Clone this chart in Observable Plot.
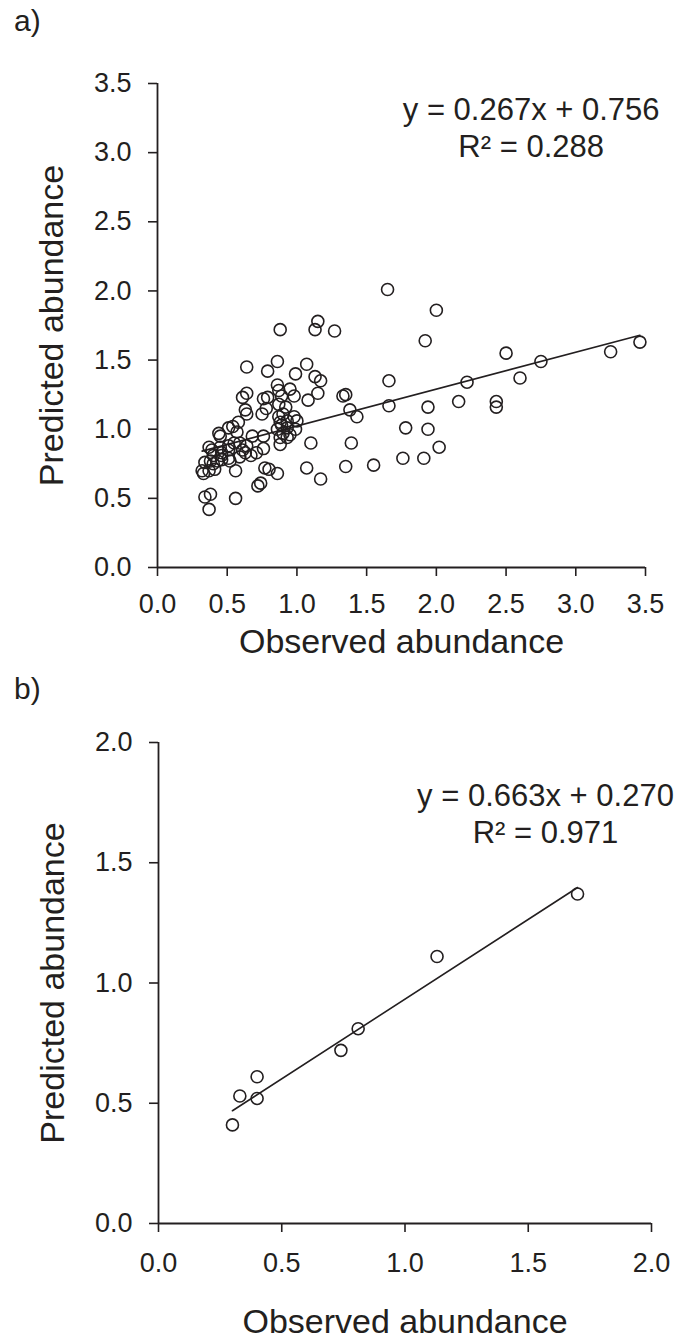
<!DOCTYPE html>
<html><head><meta charset="utf-8">
<script src="https://cdn.jsdelivr.net/npm/d3@7"></script>
<script src="https://cdn.jsdelivr.net/npm/@observablehq/plot@0.6"></script>
<style>
body{margin:0;background:#fff;}
#wrap{position:relative;width:691px;height:1341px;font-family:"Liberation Sans",Arial,sans-serif;color:#231f20;overflow:hidden;}
.panel{position:absolute;left:0;}
.tag{position:absolute;left:14px;font-size:30px;line-height:1;}
</style></head><body>
<div id="wrap">
<div id="pa" class="panel" style="top:0"></div>
<div id="pb" class="panel" style="top:670px"></div>
<div class="tag" style="top:6px">a)</div>
<div class="tag" style="top:674px">b)</div>
</div>
<script>
// ---- Panel a data ----
const obsA = [1.65,2.00,1.15,1.13,1.27,1.92,2.50,3.46,3.25,2.75,1.07,1.13,1.17,1.66,2.22,2.60,1.15,1.08,1.33,1.35,
  1.38,1.43,1.66,1.94,2.16,2.43,2.43,1.78,1.94,1.10,1.39,2.02,1.76,1.91,1.07,1.35,1.55,1.17,0.88,0.64,
  0.79,0.86,0.99,0.86,0.87,0.89,0.95,0.98,0.61,0.64,0.76,0.79,0.63,0.64,0.75,0.78,0.87,0.92,0.90,0.98,
  1.00,0.87,0.88,0.93,0.89,0.93,0.86,0.90,0.93,0.88,0.95,0.99,0.88,0.76,0.68,0.64,0.63,0.59,0.76,0.71,
  0.67,0.54,0.58,0.51,0.57,0.44,0.45,0.37,0.39,0.45,0.46,0.51,0.55,0.59,0.51,0.61,0.40,0.46,0.51,0.34,
  0.38,0.40,0.43,0.46,0.52,0.32,0.33,0.37,0.41,0.56,0.77,0.80,0.86,0.72,0.74,0.34,0.38,0.56,0.37];
const predA = [2.01,1.86,1.78,1.72,1.71,1.64,1.55,1.63,1.56,1.49,1.47,1.38,1.35,1.35,1.34,1.37,1.26,1.21,1.24,1.25,
  1.14,1.09,1.17,1.16,1.20,1.20,1.16,1.01,1.00,0.90,0.90,0.87,0.79,0.79,0.72,0.73,0.74,0.64,1.72,1.45,
  1.42,1.49,1.40,1.32,1.28,1.24,1.29,1.24,1.23,1.26,1.22,1.23,1.14,1.11,1.11,1.15,1.18,1.16,1.11,1.09,
  1.06,1.09,1.05,1.06,1.03,1.01,1.00,0.97,0.94,0.94,0.96,1.00,0.89,0.95,0.95,0.88,0.83,0.80,0.86,0.83,
  0.81,1.02,1.05,1.01,0.98,0.97,0.95,0.87,0.85,0.87,0.83,0.88,0.90,0.90,0.85,0.85,0.81,0.81,0.79,0.76,
  0.77,0.75,0.77,0.78,0.77,0.70,0.68,0.70,0.71,0.70,0.72,0.71,0.68,0.59,0.61,0.51,0.53,0.50,0.42];
const slopeA = 0.267, interceptA = 0.756, r2A = 0.288;
const ticksA = [0, 0.5, 1.0, 1.5, 2.0, 2.5, 3.0, 3.5];

// ---- Panel b data ----
const obsB  = [0.30, 0.33, 0.40, 0.40, 0.74, 0.81, 1.13, 1.70];
const predB = [0.41, 0.53, 0.61, 0.52, 0.72, 0.81, 1.11, 1.37];
const slopeB = 0.663, interceptB = 0.270, r2B = 0.971;
const ticksB = [0, 0.5, 1.0, 1.5, 2.0];

const xLabel = "Observed abundance";
const yLabel = "Predicted abundance";

const INK = "#231f20";
const FONT = '"Liberation Sans", Arial, sans-serif';
const fmt = d3.format(".1f");

function panel({obs, pred, slope, intercept, r2, ticks, height, mt, mb, ml, mr, eqX, eqY, xPad, titleDy}) {
  const data = obs.map((o, i) => ({o, p: pred[i]}));
  const ext = d3.extent(obs);
  const fit = ext.map(x => ({x, y: slope * x + intercept}));
  const dom = [ticks[0], ticks[ticks.length - 1]];
  const eq = `y = ${slope.toFixed(3)}x + ${intercept.toFixed(3)}\nR² = ${r2.toFixed(3)}`;
  return Plot.plot({
    width: 691, height,
    marginTop: mt, marginBottom: mb, marginLeft: ml, marginRight: mr,
    style: {fontFamily: FONT, color: INK, background: "transparent", overflow: "visible"},
    x: {domain: dom},
    y: {domain: dom},
    marks: [
      Plot.axisX(ticks, {tickFormat: fmt, tickSize: 9, tickPadding: xPad, fontSize: 27, strokeWidth: 1.6, label: null}),
      Plot.axisY(ticks, {tickFormat: fmt, tickSize: 9, tickPadding: 17, fontSize: 27, strokeWidth: 1.6, label: null}),
      Plot.ruleX([dom[0]], {stroke: INK, strokeWidth: 1.8}),
      Plot.ruleY([dom[0]], {stroke: INK, strokeWidth: 1.8}),
      Plot.line(fit, {x: "x", y: "y", stroke: INK, strokeWidth: 1.6}),
      Plot.dot(data, {x: "o", y: "p", r: 6, stroke: INK, strokeWidth: 1.6, fill: "none"}),
      Plot.text([eq], {x: eqX, y: eqY, text: d => d, fontSize: 31, lineAnchor: "top", lineHeight: 1.2, textAnchor: "middle", fill: INK}),
      Plot.text([xLabel], {frameAnchor: "bottom", dy: titleDy, lineAnchor: "top", textAnchor: "middle", text: d => d, fontSize: 34, fill: INK}),
      Plot.text([yLabel], {frameAnchor: "left", dx: -105, rotate: -90, textAnchor: "middle", lineAnchor: "middle", text: d => d, fontSize: 34, fill: INK})
    ]
  });
}

document.getElementById("pa").append(panel({
  obs: obsA, pred: predA, slope: slopeA, intercept: interceptA, r2: r2A, ticks: ticksA,
  height: 670, mt: 83, mb: 103, ml: 157, mr: 46, eqX: 2.68, eqY: 3.43, xPad: 17, titleDy: 61
}));
document.getElementById("pb").append(panel({
  obs: obsB, pred: predB, slope: slopeB, intercept: interceptB, r2: r2B, ticks: ticksB,
  height: 671, mt: 72, mb: 118, ml: 158, mr: 40, eqX: 1.57, eqY: 1.847, xPad: 20, titleDy: 85
}));
</script>
</body></html>
